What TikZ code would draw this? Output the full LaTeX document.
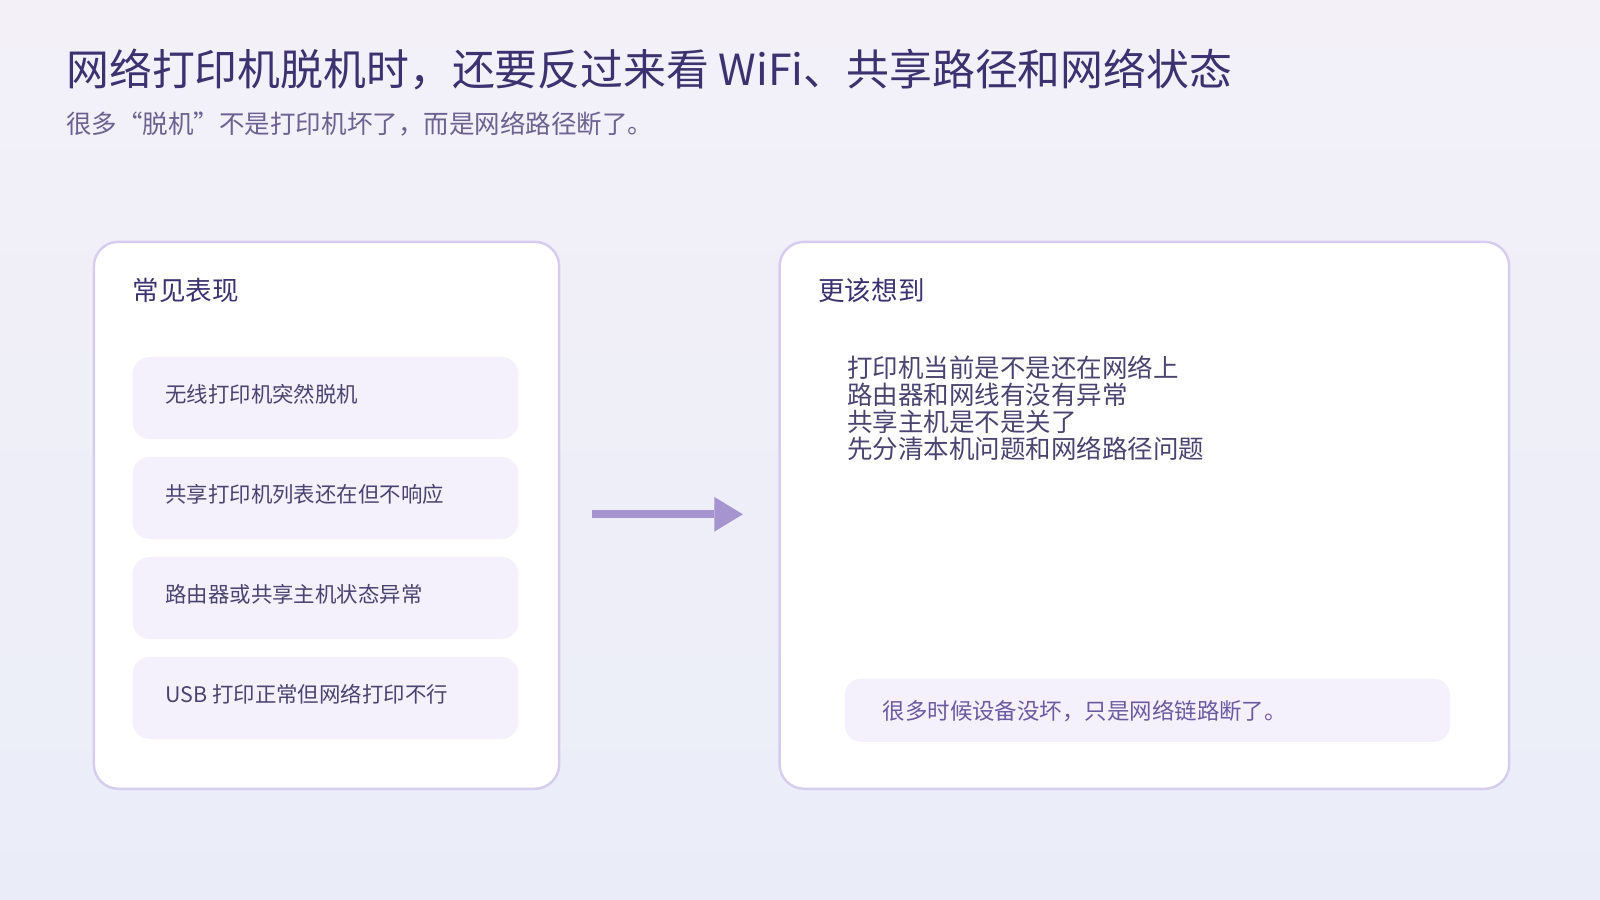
\documentclass[tikz,border=0pt]{standalone}
\usepackage{fontspec}
\setmainfont{Noto Sans CJK SC}
\usetikzlibrary{positioning}
\definecolor{bgtop}{HTML}{F3F0F8}
\definecolor{bgbot}{HTML}{EAEDF8}
\definecolor{titlec}{HTML}{3D3270}
\definecolor{subc}{HTML}{6B6290}
\definecolor{cardline}{HTML}{D6CDEE}
\definecolor{itemfill}{HTML}{F4F1FC}
\definecolor{itemtext}{HTML}{4A4470}
\definecolor{arrowc}{HTML}{A594D0}
\definecolor{notec}{HTML}{6A5AA0}
\begin{document}
\begin{tikzpicture}[x=0.5pt, y=-0.5pt,
  card/.style = {draw=cardline, line width=1.2pt, fill=white, rounded corners=12pt},
  item/.style = {fill=itemfill, rounded corners=8pt},
  head/.style = {anchor=base west, text=titlec, font=\fontsize{13}{15}\selectfont},
  itemtxt/.style = {anchor=west, text=itemtext, font=\fontsize{10.5}{12}\selectfont},
  arr/.style = {draw=arrowc, line width=4pt}]
	\shade[top color=bgtop, bottom color=bgbot] (0,0) rectangle (1568,882);
	\useasboundingbox (0,0) rectangle (1568,882);
	\node[anchor=base west, text=titlec, font=\fontsize{21}{24}\selectfont] (title) at (58,84) {网络打印机脱机时，还要反过来看 WiFi、共享路径和网络状态};
	\node[anchor=base west, text=subc, font=\fontsize{12.5}{14}\selectfont] (sub) at (58,131) {很多“脱机”不是打印机坏了，而是网络路径断了。};
	% left card
	\draw[card] (92,237) rectangle (548,773);
	\node[head] (lhead) at (123,294) {常见表现};
	\foreach \y/\t [count=\i] in {350/无线打印机突然脱机, 448/共享打印机列表还在但不响应, 546/路由器或共享主机状态异常, 644/USB 打印正常但网络打印不行} {
		\fill[item] (130,\y) rectangle (508,\y+80);
		\node[itemtxt] (item\i) at (155,\y+36) {\t};
	}
	% arrow
	\coordinate (a1) at (580,504);
	\coordinate (a2) at (728,504);
	\draw[arr] (a1) -- (700,504);
	\fill[arrowc] (700,487) -- (a2) -- (700,521) -- cycle;
	% right card
	\draw[card] (764,237) rectangle (1479,773);
	\node[head] (rhead) at (795,294) {更该想到};
	\node[anchor=north west, text=itemtext, align=left, font=\fontsize{12.5}{13.2}\selectfont, inner sep=0pt] (list) at (830,348) {打印机当前是不是还在网络上\\路由器和网线有没有异常\\共享主机是不是关了\\先分清本机问题和网络路径问题};
	\fill[item] (828,665) rectangle (1421,727);
	\node[anchor=west, text=notec, font=\fontsize{11}{13}\selectfont] (note) at (858,697) {很多时候设备没坏，只是网络链路断了。};
\end{tikzpicture}
\end{document}
